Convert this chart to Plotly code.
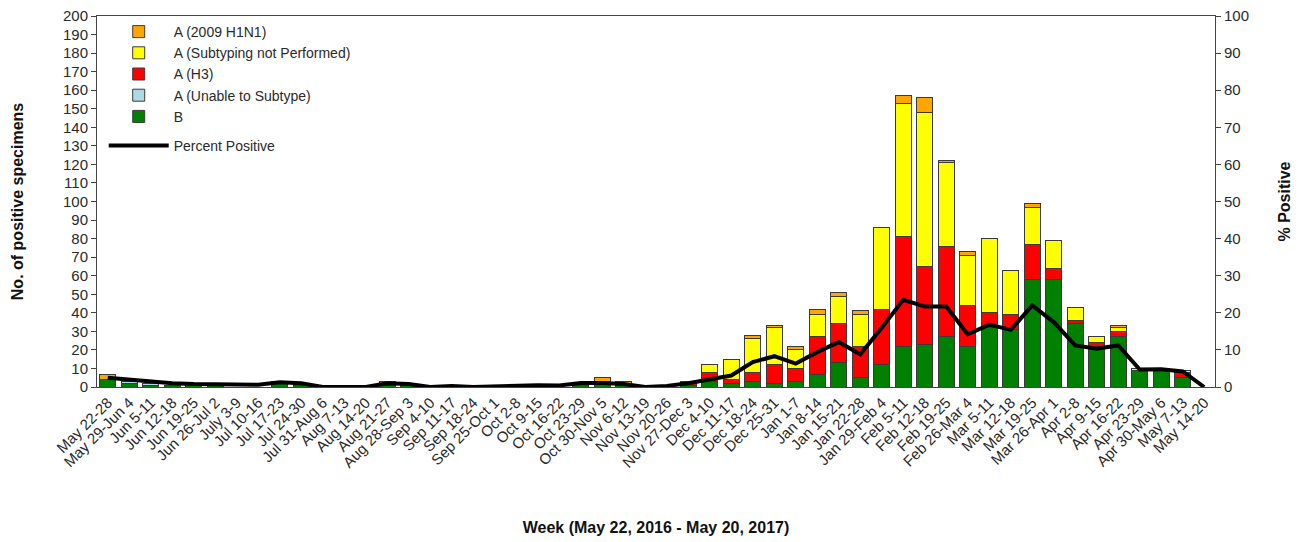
import plotly.graph_objects as go

weeks = ["May 22-28", "May 29-Jun 4", "Jun 5-11", "Jun 12-18", "Jun 19-25", "Jun 26-Jul 2",
         "July 3-9", "Jul 10-16", "Jul 17-23", "Jul 24-30", "Jul 31-Aug 6", "Aug 7-13",
         "Aug 14-20", "Aug 21-27", "Aug 28-Sep 3", "Sep 4-10", "Sep 11-17", "Sep 18-24",
         "Sep 25-Oct 1", "Oct 2-8", "Oct 9-15", "Oct 16-22", "Oct 23-29", "Oct 30-Nov 5",
         "Nov 6-12", "Nov 13-19", "Nov 20-26", "Nov 27-Dec 3", "Dec 4-10", "Dec 11-17",
         "Dec 18-24", "Dec 25-31", "Jan 1-7", "Jan 8-14", "Jan 15-21", "Jan 22-28",
         "Jan 29-Feb 4", "Feb 5-11", "Feb 12-18", "Feb 19-25", "Feb 26-Mar 4", "Mar 5-11",
         "Mar 12-18", "Mar 19-25", "Mar 26-Apr 1", "Apr 2-8", "Apr 9-15", "Apr 16-22",
         "Apr 23-29", "Apr 30-May 6", "May 7-13", "May 14-20"]

b_vals = [4, 2, 1, 1, 1, 1, 0, 0, 2, 1, 0, 0, 0, 1, 1, 0, 0, 0, 0, 0, 0, 0, 1, 2, 1, 0,
          0, 1, 3, 2, 3, 2, 3, 7, 13, 5, 12, 22, 23, 27, 22, 32, 31, 58, 58, 34, 22, 27,
          9, 10, 5, 0]
unable_vals = [0, 1, 1, 0, 0, 0, 0, 0, 1, 1, 0, 0, 0, 0, 0, 0, 0, 0, 0, 0, 0, 0, 0, 1, 0, 0,
               0, 0, 0, 0, 0, 0, 0, 0, 0, 0, 0, 0, 0, 0, 0, 0, 0, 0, 0, 0, 0, 0,
               0, 0, 0, 0]
h3_vals = [0, 0, 0, 0, 0, 0, 0, 0, 0, 0, 0, 0, 0, 0, 0, 0, 0, 0, 0, 0, 0, 0, 1, 0, 0, 0,
           0, 2, 5, 2, 5, 10, 7, 20, 21, 17, 30, 59, 42, 49, 22, 8, 8, 19, 6, 2, 2, 3,
           0, 0, 3, 0]
notperf_vals = [0, 0, 0, 0, 0, 0, 0, 0, 0, 0, 0, 0, 0, 0, 0, 0, 0, 0, 0, 0, 0, 0, 0, 0, 0, 0,
                0, 0, 4, 11, 18, 20, 10, 12, 15, 17, 44, 72, 83, 45, 27, 40, 24, 20, 15, 7, 3, 2,
                1, 0, 1, 0]
h1n1_vals = [3, 1, 0, 0, 0, 0, 0, 0, 0, 0, 0, 0, 0, 2, 0, 0, 0, 0, 0, 0, 0, 0, 0, 2, 2, 0,
             0, 0, 0, 0, 2, 1, 2, 3, 2, 2, 0, 4, 8, 1, 2, 0, 0, 2, 0, 0, 0, 1,
             0, 0, 0, 0]
pct_positive = [2.5, 2.0, 1.5, 1.0, 0.8, 0.8, 0.6, 0.6, 1.3, 1.0, 0.0, 0.0, 0.0, 1.0, 0.8, 0.0,
                0.3, 0.0, 0.2, 0.4, 0.5, 0.4, 1.1, 1.1, 0.8, 0.0, 0.3, 1.0, 2.0, 3.1, 6.7, 8.3,
                6.3, 9.4, 12.1, 8.8, 16.0, 23.5, 21.7, 21.7, 14.2, 16.8, 15.4, 22.0, 17.5, 11.2,
                10.3, 11.2, 4.7, 4.8, 4.2, 0.0]

FONT = "Liberation Sans, Arial, sans-serif"
OUTLINE = "#3a3a3a"


def nz(vals):
    return [v if v else None for v in vals]


series = [
    ("B", b_vals, "#008000", 5),
    ("A (Unable to Subtype)", unable_vals, "#ADD8E6", 4),
    ("A (H3)", h3_vals, "#FF0000", 3),
    ("A (Subtyping not Performed)", notperf_vals, "#FFFF00", 2),
    ("A (2009 H1N1)", h1n1_vals, "#FFA500", 1),
]

fig = go.Figure()
for name, vals, color, rank in series:
    fig.add_trace(go.Bar(
        x=weeks, y=nz(vals), name=name, legendrank=rank, legendgroup="bars",
        marker=dict(color=color, line=dict(color=OUTLINE, width=1)),
        width=0.74,
    ))

fig.add_trace(go.Scatter(
    x=weeks, y=pct_positive, name="Percent Positive", mode="lines",
    line=dict(color="black", width=4), yaxis="y2",
    legendrank=6, legendgroup="line",
))

fig.update_layout(
    width=1300, height=542,
    margin=dict(l=89, r=93, t=8, b=163),
    paper_bgcolor="white", plot_bgcolor="white",
    barmode="stack", bargap=0.26,
    font=dict(family=FONT, size=15, color="#2a2a2a"),
    showlegend=True,
    legend=dict(
        x=0.006, y=1.0, xanchor="left", yanchor="top",
        traceorder="grouped", tracegroupgap=8,
        bgcolor="rgba(0,0,0,0)", font=dict(family=FONT, size=14, color="#2a2a2a"),
        itemwidth=60,
    ),
    xaxis=dict(
        type="category", range=[-0.5, 51.5], tickangle=-45, automargin=False,
        showline=True, linecolor="#444", linewidth=1, mirror=True,
        ticks="", showgrid=False, tickfont=dict(size=15),
        title=dict(text="<b>Week (May 22, 2016 - May 20, 2017)</b>",
                   font=dict(size=16, color="#111"), standoff=51),
    ),
    yaxis=dict(
        range=[0, 200], dtick=10, showline=True, linecolor="#444", linewidth=1,
        automargin=False, ticklabeloverflow="allow",
        ticks="outside", ticklen=5, tickcolor="#444", showgrid=False, zeroline=False,
        tickfont=dict(size=15),
        title=dict(text="<b>No. of positive specimens</b>", font=dict(size=16, color="#111"),
                   standoff=35),
    ),
    yaxis2=dict(
        range=[0, 100], dtick=10, overlaying="y", side="right", automargin=False,
        ticklabeloverflow="allow",
        showline=True, linecolor="#444", linewidth=1,
        ticks="outside", ticklen=5, tickcolor="#444", showgrid=False, zeroline=False,
        tickfont=dict(size=15),
        title=dict(text="<b>% Positive</b>", font=dict(size=16, color="#111"), standoff=30),
    ),
)

fig.write_html("out.html")
